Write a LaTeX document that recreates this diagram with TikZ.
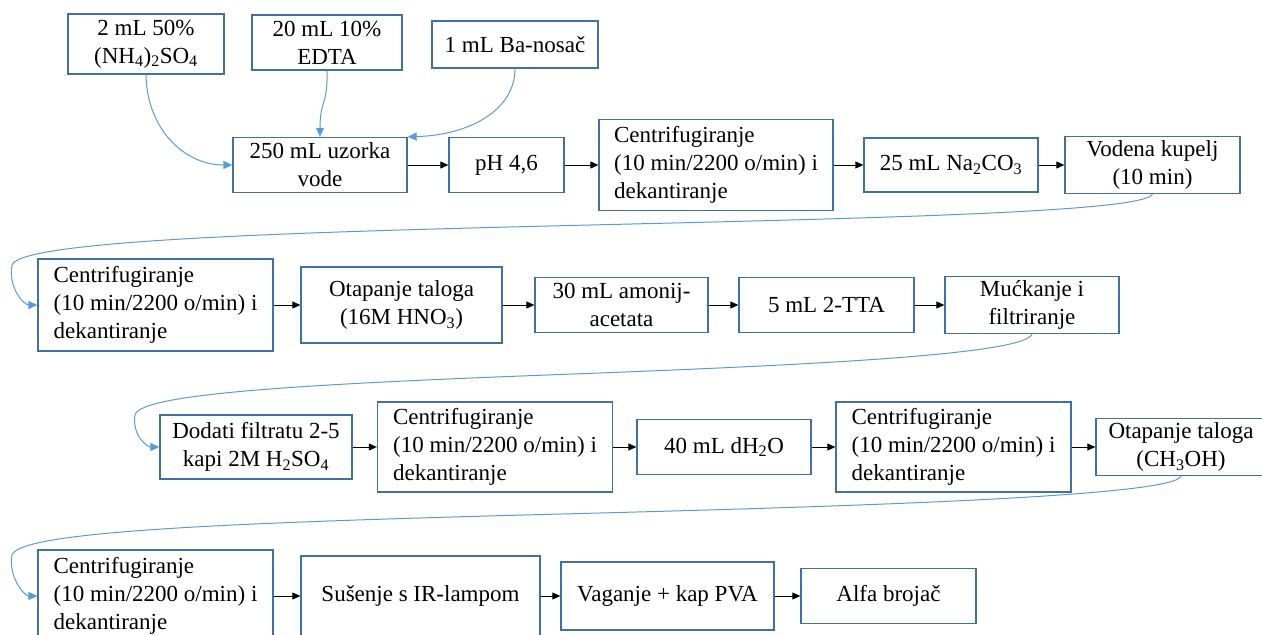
\documentclass[tikz,border=0pt]{standalone}
\usepackage{fontspec}
\setmainfont{Liberation Serif}
\newfontfamily\tekst{Liberation Serif}
\usetikzlibrary{arrows.meta}
\definecolor{okvir}{RGB}{65,113,156}
\definecolor{plava}{RGB}{91,155,213}

\begin{document}
\begin{tikzpicture}[x=1pt,y=-1pt,
  korak/.style={draw=okvir,line width=1.3pt,fill=white,inner sep=4pt,font=\tekst\fontsize{23pt}{28pt}\selectfont,align=center},
  tok/.style={line width=0.9pt,-{Triangle[length=8pt,width=7pt]}},
  veza/.style={plava,line width=1pt,-{Triangle[length=9pt,width=8pt]}}]
  \useasboundingbox (0,0) rectangle (1262,635);

  %dodaci
  \node[korak,minimum width=156pt,minimum height=60pt] (a1) at (146,44) {2 mL 50\%\\(NH\textsubscript{4})\textsubscript{2}SO\textsubscript{4}};
  \node[korak,minimum width=150pt,minimum height=55pt] (a2) at (327,42.5) {20 mL 10\%\\EDTA};
  \node[korak,minimum width=166pt,minimum height=47pt] (a3) at (515,44.5) {1 mL Ba-nosač};

  %prvi red
  \node[korak,minimum width=174pt,minimum height=55pt] (b1) at (320,165) {250 mL uzorka\\vode};
  \node[korak,minimum width=115pt,minimum height=55pt] (b2) at (506.5,165) {pH 4,6};
  \node[korak,align=left,minimum width=234pt,minimum height=91pt] (b3) at (716,165) {Centrifugiranje\\(10 min/2200 o/min) i\\dekantiranje};
  \node[korak,minimum width=174pt,minimum height=54pt] (b4) at (951,165) {25 mL Na\textsubscript{2}CO\textsubscript{3}};
  \node[korak,minimum width=175pt,minimum height=55pt] (b5) at (1152.5,165) {Vodena kupelj\\(10 min)};

  %drugi red
  \node[korak,align=left,minimum width=235pt,minimum height=92pt] (c1) at (155.5,305) {Centrifugiranje\\(10 min/2200 o/min) i\\dekantiranje};
  \node[korak,minimum width=201pt,minimum height=76pt] (c2) at (401.5,305) {Otapanje taloga\\(16M HNO\textsubscript{3})};
  \node[korak,minimum width=173pt,minimum height=55pt] (c3) at (621.5,305) {30 mL amonij-\\acetata};
  \node[korak,minimum width=175pt,minimum height=55pt] (c4) at (826.5,305) {5 mL 2-TTA};
  \node[korak,minimum width=174pt,minimum height=55pt] (c5) at (1032,305) {Mućkanje i\\filtriranje};

  %treci red
  \node[korak,minimum width=192pt,minimum height=64pt] (d1) at (256,447) {Dodati filtratu 2-5\\kapi 2M H\textsubscript{2}SO\textsubscript{4}};
  \node[korak,align=left,minimum width=235pt,minimum height=90pt] (d2) at (495,447) {Centrifugiranje\\(10 min/2200 o/min) i\\dekantiranje};
  \node[korak,minimum width=174pt,minimum height=55pt] (d3) at (724,447) {40 mL dH\textsubscript{2}O};
  \node[korak,align=left,minimum width=235pt,minimum height=90pt] (d4) at (953.5,447) {Centrifugiranje\\(10 min/2200 o/min) i\\dekantiranje};
  \node[korak,minimum width=170pt,minimum height=55pt] (d5) at (1181,447) {Otapanje taloga\\(CH\textsubscript{3}OH)};

  %cetvrti red
  \node[korak,align=left,minimum width=235pt,minimum height=92pt] (e1) at (155.5,596) {Centrifugiranje\\(10 min/2200 o/min) i\\dekantiranje};
  \node[korak,minimum width=239pt,minimum height=80pt] (e2) at (420.5,596) {Sušenje s IR-lampom};
  \node[korak,minimum width=213pt,minimum height=68pt] (e3) at (667.5,596) {Vaganje + kap PVA};
  \node[korak,minimum width=175pt,minimum height=55pt] (e4) at (888.5,596) {Alfa brojač};

  %strelice
  \draw[tok] (b1) -- (b2);
  \draw[tok] (b2) -- (b3);
  \draw[tok] (b3) -- (b4);
  \draw[tok] (b4) -- (b5);
  \draw[tok] (c1) -- (c2);
  \draw[tok] (c2) -- (c3);
  \draw[tok] (c3) -- (c4);
  \draw[tok] (c4) -- (c5);
  \draw[tok] (d1) -- (d2);
  \draw[tok] (d2) -- (d3);
  \draw[tok] (d3) -- (d4);
  \draw[tok] (d4) -- (d5);
  \draw[tok] (e1) -- (e2);
  \draw[tok] (e2) -- (e3);
  \draw[tok] (e3) -- (e4);

  %zakrivljene veze
  \draw[veza] (a1.south) .. controls (147,130) and (185,165) .. (b1.west);
  \draw[veza] (a2.south) .. controls (328,105) and (320,100) .. (b1.north);
  \draw[veza] (a3.south) .. controls (515,110) and (470,135) .. (b1.north east);
  \draw[veza] (b5.south) .. controls (1145,212) and (880,218) .. (590,225) .. controls (300,232) and (20,240) .. (12,265) .. controls (8,290) and (25,305) .. (c1.west);
  \draw[veza] (c5.south) .. controls (1025,355) and (800,365) .. (600,373) .. controls (330,383) and (140,392) .. (135,415) .. controls (132,437) and (148,447) .. (d1.west);
  \draw[veza] (d5.south) .. controls (1175,495) and (900,505) .. (600,513) .. controls (250,522) and (20,530) .. (12,555) .. controls (8,578) and (25,596) .. (e1.west);
\end{tikzpicture}
\end{document}
